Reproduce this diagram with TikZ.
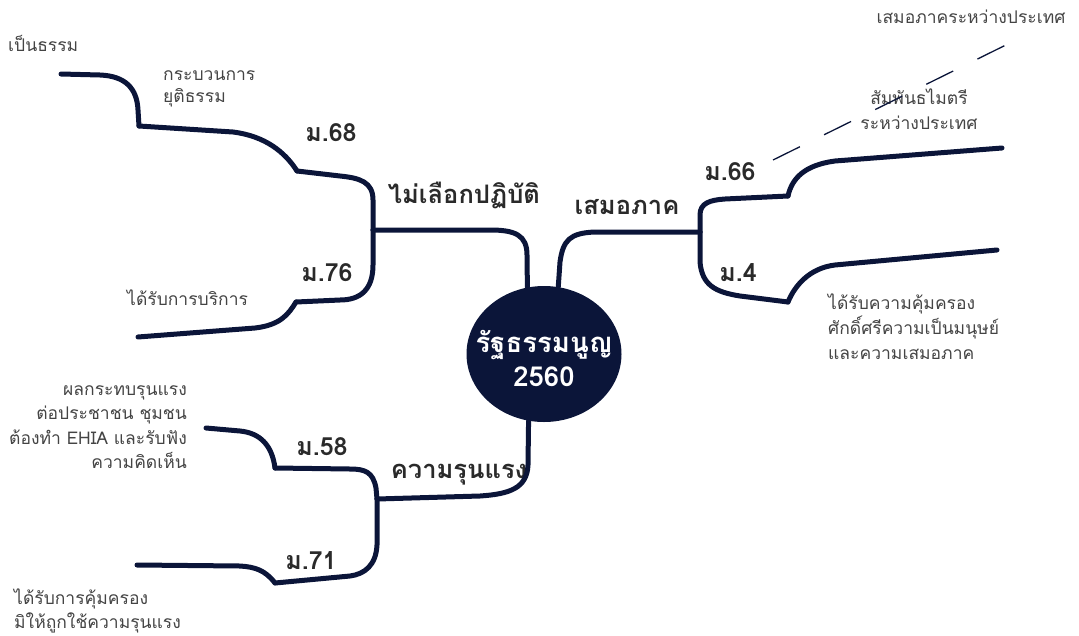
\documentclass[tikz,border=0pt]{standalone}
\usepackage{fontspec}
\newfontfamily\thai[Script=Thai]{Loma}
\usetikzlibrary{shapes.geometric}
\definecolor{navy}{HTML}{0B1539}
\definecolor{txtgray}{HTML}{444444}
\definecolor{lblgray}{HTML}{2A2A2A}
\tikzset{
  branch/.style={draw=navy, line width=5pt, line cap=round, line join=round},
  leaf/.style={inner sep=0pt, text=txtgray, font=\thai\fontsize{17.5}{24.5}\selectfont},
  lbl/.style={inner sep=0pt, text=lblgray, font=\thai\bfseries\fontsize{25}{28}\selectfont},
  topic/.style={inner sep=0pt, text=lblgray, font=\thai\bfseries\fontsize{25.5}{30}\selectfont},
  dashlink/.style={draw=navy, line width=1.3pt, dash pattern=on 30pt off 27pt}
}
\begin{document}
\begin{tikzpicture}[x=1pt,y=-1pt]
\useasboundingbox (0,0) rectangle (1079,635);
% central node
\node[ellipse, fill=navy, minimum width=155pt, minimum height=136pt, inner sep=0pt] (core) at (544,354) {};
\node[text=white, align=center, inner sep=0pt, font=\thai\bfseries\fontsize{27.5}{34}\selectfont] (coretext) at (544,358) {รัฐธรรมนูญ\\2560};
% texts
\node[leaf, anchor=west] (t1) at (8,43) {เป็นธรรม};
\node[leaf, anchor=west, align=left, font=\thai\fontsize{17.5}{22.5}\selectfont] (t2) at (163,89) {กระบวนการ\\ยุติธรรม};
\node[leaf, anchor=west] (t3) at (127,298) {ได้รับการบริการ};
\node[leaf, anchor=east, align=right] (t4) at (187,427) {ผลกระทบรุนแรง\\ต่อประชาชน ชุมชน\\ต้องทำ EHIA และรับฟัง\\ความคิดเห็น};
\node[leaf, anchor=west, align=left] (t5) at (14,611) {ได้รับการคุ้มครอง\\มิให้ถูกใช้ความรุนแรง};
\node[leaf] (t6) at (971,17) {เสมอภาคระหว่างประเทศ};
\node[leaf, align=center, font=\thai\fontsize{17.5}{25}\selectfont] (t7) at (919,109) {สัมพันธไมตรี\\ระหว่างประเทศ};
\node[leaf, anchor=west, align=left, font=\thai\fontsize{17.5}{25}\selectfont] (t8) at (828,327) {ได้รับความคุ้มครอง\\ศักดิ์ศรีความเป็นมนุษย์\\และความเสมอภาค};
% labels
\node[lbl] (m68) at (331,133) {ม.68};
\node[lbl] (m76) at (327,273) {ม.76};
\node[lbl] (m66) at (730,172) {ม.66};
\node[lbl] (m4) at (738,273) {ม.4};
\node[lbl] (m58) at (322,447) {ม.58};
\node[lbl] (m71) at (311,561) {ม.71};
\node[topic] (nd) at (464,195) {ไม่เลือกปฏิบัติ};
\node[topic] (eq) at (627,207) {เสมอภาค};
\node[topic] (vi) at (459,475) {ความรุนแรง};
% coordinates
\coordinate (j1) at (373,230);
\coordinate (j2) at (700,232);
\coordinate (j3) at (377,499);
\coordinate (c68) at (297,171);
\coordinate (c68b) at (139,126);
\coordinate (e68) at (61,74);
\coordinate (c76) at (296,302);
\coordinate (e76) at (138,337);
\coordinate (c66) at (788,196);
\coordinate (e66) at (1002,148);
\coordinate (c4) at (788,302);
\coordinate (e4) at (997,250);
\coordinate (c58) at (275,468);
\coordinate (e58) at (206,428);
\coordinate (c71) at (275,583);
\coordinate (e71) at (137,565);
\coordinate (ds) at (773,160);
\coordinate (de) at (1016,40);
% branches
\draw[branch] (core.104) -- (527,255) .. controls (527,235) and (515,230) .. (490,230) -- (j1);
\draw[branch] (j1) -- (373,200) .. controls (373,182) and (360,178) .. (340,176) -- (c68);
\draw[branch] (c68) .. controls (285,152) and (265,136) .. (233,132) -- (c68b);
\draw[branch] (c68b) -- (138,110) .. controls (137,88) and (125,76) .. (100,75) -- (e68);
\draw[branch] (j1) -- (373,265) .. controls (373,290) and (360,300) .. (340,300) -- (c76);
\draw[branch] (c76) .. controls (288,315) and (280,325) .. (255,328) -- (e76);
\draw[branch] (core.78) -- (560,262) .. controls (563,240) and (570,233) .. (595,232) -- (j2);
\draw[branch] (j2) -- (700,215) .. controls (700,203) and (710,200) .. (725,199) -- (c66);
\draw[branch] (c66) .. controls (792,178) and (805,165) .. (835,161) -- (e66);
\draw[branch] (j2) -- (700,262) .. controls (702,285) and (715,292) .. (740,296) -- (c4);
\draw[branch] (c4) .. controls (795,285) and (810,268) .. (835,265) -- (e4);
\draw[branch] (core.257) -- (528,465) .. controls (527,488) and (510,494) .. (480,496) -- (j3);
\draw[branch] (j3) -- (376,488) .. controls (373,472) and (365,469) .. (350,469) -- (c58);
\draw[branch] (c58) .. controls (272,445) and (260,433) .. (240,431) -- (e58);
\draw[branch] (j3) -- (377,545) .. controls (376,565) and (365,574) .. (350,576) -- (c71);
\draw[branch] (c71) .. controls (265,570) and (255,567) .. (240,566) -- (e71);
\draw[dashlink] (ds) -- (de);
\end{tikzpicture}
\end{document}
